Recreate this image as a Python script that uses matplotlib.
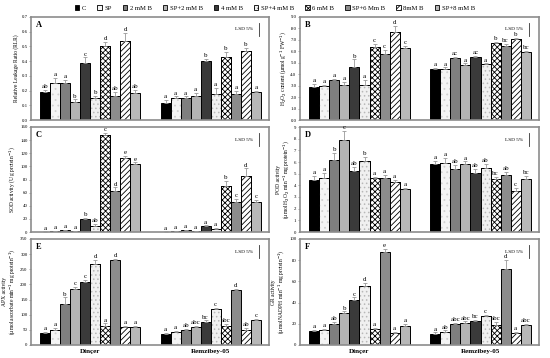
import matplotlib
matplotlib.use("Agg")
import matplotlib.pyplot as plt
import numpy as np

plt.rcParams['font.family'] = ['Liberation Serif', 'DejaVu Serif']
plt.rcParams['hatch.linewidth'] = 0.6

treatments = ["C", "SP", "2 mM B", "SP+2 mM B", "4 mM B", "SP+4 mM B",
              "6 mM B", "SP+6 Mm B", "8mM B", "SP+8 mM B"]
cultivars = ["Dinçer", "Remzibey-05"]

# Panel A: relative leakage ratio
a_din = [0.19, 0.25, 0.25, 0.12, 0.385, 0.15, 0.50, 0.16, 0.54, 0.185]
a_rem = [0.115, 0.15, 0.15, 0.16, 0.40, 0.18, 0.425, 0.175, 0.47, 0.19]
a_din_err = [0.015, 0.035, 0.02, 0.02, 0.04, 0.015, 0.03, 0.03, 0.05, 0.02]
a_rem_err = [0.02, 0.01, 0.01, 0.025, 0.015, 0.04, 0.04, 0.025, 0.02, 0.01]
a_din_let = ["ab", "a", "a", "b", "c", "b", "d", "ab", "d", "ab"]
a_rem_let = ["a", "a", "a", "a", "b", "a", "b", "a", "b", "a"]

# Panel B: H2O2 content
b_din = [2.9, 3.0, 3.5, 3.05, 4.6, 3.1, 6.4, 5.8, 7.7, 6.3]
b_rem = [4.45, 4.5, 5.4, 4.8, 5.5, 4.85, 6.75, 6.45, 7.05, 5.95]
b_din_err = [0.25, 0.1, 0.1, 0.25, 0.7, 0.4, 0.25, 0.3, 0.5, 0.2]
b_rem_err = [0.1, 0.1, 0.1, 0.15, 0.1, 0.1, 0.1, 0.2, 0.1, 0.1]
b_din_let = ["a", "a", "a", "a", "b", "a", "c", "c", "d", "c"]
b_rem_let = ["a", "a", "ac", "a", "ac", "a", "b", "bc", "b", "bc"]

# Panel C: SOD activity
c_din = [0.5, 0.8, 2.5, 1.5, 20.5, 9.0, 148, 63, 113, 103]
c_rem = [0.5, 0.8, 2.5, 1.5, 9.0, 5.0, 70, 46, 85, 45]
c_din_err = [0.3, 0.3, 0.5, 0.5, 1.5, 3, 3, 5, 3, 3]
c_rem_err = [0.3, 0.3, 0.5, 0.5, 1, 1, 8, 5, 12, 4]
c_din_let = ["a", "a", "a", "a", "b", "ab", "c", "d", "e", "e"]
c_rem_let = ["a", "a", "a", "a", "a", "a", "b", "c", "d", "c"]

# Panel D: POD activity
d_din = [4.5, 4.6, 6.15, 7.9, 5.2, 6.1, 4.65, 4.67, 4.25, 3.7]
d_rem = [5.82, 5.93, 5.37, 5.85, 5.03, 5.5, 4.52, 4.88, 3.55, 4.52]
d_din_err = [0.3, 0.5, 0.6, 0.8, 0.4, 0.3, 0.1, 0.2, 0.2, 0.1]
d_rem_err = [0.3, 0.4, 0.4, 0.2, 0.4, 0.3, 0.2, 0.3, 0.2, 0.3]
d_din_let = ["a", "a", "b", "c", "ab", "b", "a", "a", "a", "a"]
d_rem_let = ["a", "a", "ab", "a", "ab", "ab", "bc", "ab", "c", "bc"]

# Panel E: APX activity
e_din = [41, 50, 137, 186, 209, 268, 63, 280, 59, 59]
e_rem = [37, 43, 48, 61, 76, 120, 64, 183, 50, 83]
e_din_err = [3, 5, 20, 5, 5, 12, 8, 5, 5, 3]
e_rem_err = [3, 3, 5, 3, 5, 3, 5, 3, 5, 3]
e_din_let = ["a", "a", "b", "c", "c", "d", "a", "d", "a", "a"]
e_rem_let = ["a", "a", "ab", "abc", "bc", "c", "abc", "d", "ab", "c"]

# Panel F: GR activity
f_din = [13.3, 14.3, 19.7, 30.2, 42.9, 55.5, 15, 88, 11, 17.5]
f_rem = [10.8, 12.7, 19.7, 21.2, 22.8, 27, 18.4, 72, 11, 19]
f_din_err = [1, 1, 2, 1.5, 2, 3, 1, 3, 1, 2]
f_rem_err = [1, 1, 1, 1, 0.5, 1, 3, 8, 1, 1]
f_din_let = ["a", "a", "ab", "b", "c", "d", "a", "e", "a", "a"]
f_rem_let = ["a", "ab", "abc", "abc", "bc", "c", "abc", "d", "a", "abc"]

facecolors = ["#000000", "#f4f4f4", "#7f7f7f", "#b4b4b4", "#3a3a3a",
              "#f0f0f0", "#ffffff", "#8c8c8c", "#ffffff", "#b8b8b8"]
hatches = [None, "...", None, None, None, "....", "xxxxxx", None, "//////", None]
hatchcolors = ["k", "#d0d0d0", "k", "k", "k", "#b8b8b8", "k", "k", "k", "k"]

panels = [
    ("A", a_din, a_rem, a_din_err, a_rem_err, a_din_let, a_rem_let,
     "Relative Leakage Ratio (RLR)", (0, 0.7), np.arange(0, 0.71, 0.1), "{:.1f}"),
    ("B", b_din, b_rem, b_din_err, b_rem_err, b_din_let, b_rem_let,
     "H$_2$O$_2$ content (µmol g$^{-1}$ FW$^{-1}$)", (0, 9), np.arange(0, 9.1, 1), "{:.1f}"),
    ("C", c_din, c_rem, c_din_err, c_rem_err, c_din_let, c_rem_let,
     "SOD activity (U g protein$^{-1}$)", (0, 160), np.arange(0, 161, 20), "{:.0f}"),
    ("D", d_din, d_rem, d_din_err, d_rem_err, d_din_let, d_rem_let,
     "POD activity\n(µmol H$_2$O$_2$ min$^{-1}$ mg protein$^{-1}$)", (0, 9), np.arange(0, 9.1, 1), "{:.0f}"),
    ("E", e_din, e_rem, e_din_err, e_rem_err, e_din_let, e_rem_let,
     "APX activity\n(µmol ascorbate min$^{-1}$ mg protein$^{-1}$)", (0, 350), np.arange(0, 351, 50), "{:.0f}"),
    ("F", f_din, f_rem, f_din_err, f_rem_err, f_din_let, f_rem_let,
     "GR activity\n(µmol NADPH min$^{-1}$ mg protein$^{-1}$)", (0, 100), np.arange(0, 101, 20), "{:.0f}"),
]

fig = plt.figure(figsize=(5.5, 3.58), dpi=100)
W, H = 550.0, 358.0
rows = [(17, 120), (127, 232), (239, 345)]
cols = [(31, 269), (300, 539)]

n = len(treatments)
x_din = np.arange(n)
x_rem = np.arange(n) + n + 2
centers = [x_din.mean(), x_rem.mean()]

legend_handles = []
for idx, (lab, vd, vr, ed, er, ld, lr, ylab, ylim, yt, fmt) in enumerate(panels):
    r, c = divmod(idx, 2)
    top, bot = rows[r]
    left, right = cols[c]
    ax = fig.add_axes([left / W, 1 - bot / H, (right - left) / W, (bot - top) / H])
    rng = ylim[1] - ylim[0]
    for i in range(n):
        for xs, vals, errs, lets in ((x_din, vd, ed, ld), (x_rem, vr, er, lr)):
            b = ax.bar(xs[i], vals[i], width=1.0, color=facecolors[i], edgecolor="k",
                       linewidth=0.7, zorder=2)
            if hatches[i]:
                ax.bar(xs[i], vals[i], width=1.0, color="none", edgecolor=hatchcolors[i],
                       linewidth=0, hatch=hatches[i], zorder=2.1)
                ax.bar(xs[i], vals[i], width=1.0, color="none", edgecolor="k",
                       linewidth=0.7, zorder=2.2)
            if idx == 0 and xs is x_din:
                legend_handles.append(plt.Rectangle((0, 0), 1, 1, facecolor=facecolors[i],
                                                    edgecolor="k", linewidth=0.6,
                                                    hatch=hatches[i]))
            ax.errorbar(xs[i], vals[i], yerr=[[0], [errs[i]]], fmt="none",
                        ecolor="#999999", elinewidth=0.6, capsize=1.2, capthick=0.6, zorder=3)
            ax.text(xs[i], vals[i] + errs[i] + rng * 0.008, lets[i], ha="center",
                    va="bottom", fontsize=5, zorder=4)
    ax.set_xlim(-1.4, x_rem[-1] + 1.3)
    ax.set_ylim(*ylim)
    ax.set_yticks(yt)
    ax.set_yticklabels([fmt.format(v) for v in yt])
    ax.tick_params(axis="y", labelsize=3.5, length=1.5, width=0.5, pad=1, color="#888888")
    if r == 2:
        ax.set_xticks(centers)
        ax.set_xticklabels(cultivars, fontsize=5, fontweight="bold")
        ax.tick_params(axis="x", length=0, pad=3)
    else:
        ax.set_xticks([])
    ax.set_ylabel(ylab, fontsize=4, labelpad=2, linespacing=1.1)
    for s in ax.spines.values():
        s.set_color("#8c8c8c")
        s.set_linewidth(1.2)
    ax.text(0.02, 0.96, lab, transform=ax.transAxes, fontsize=6, fontweight="bold",
            ha="left", va="top")
    ax.text(0.935, 0.88, "LSD 5%", transform=ax.transAxes, fontsize=3.8,
            ha="right", va="center")
    ax.plot([0.958, 0.958], [0.82, 0.94], transform=ax.transAxes, color="#333333", lw=0.6)

fig.legend(legend_handles, treatments, loc="center", bbox_to_anchor=(0.5, 1 - 8 / H), ncol=10,
           frameon=False, fontsize=4.8, handlelength=0.7, handleheight=0.7,
           handletextpad=0.4, columnspacing=1.6, borderaxespad=0, borderpad=0)

fig.savefig("out.png", dpi=100)
